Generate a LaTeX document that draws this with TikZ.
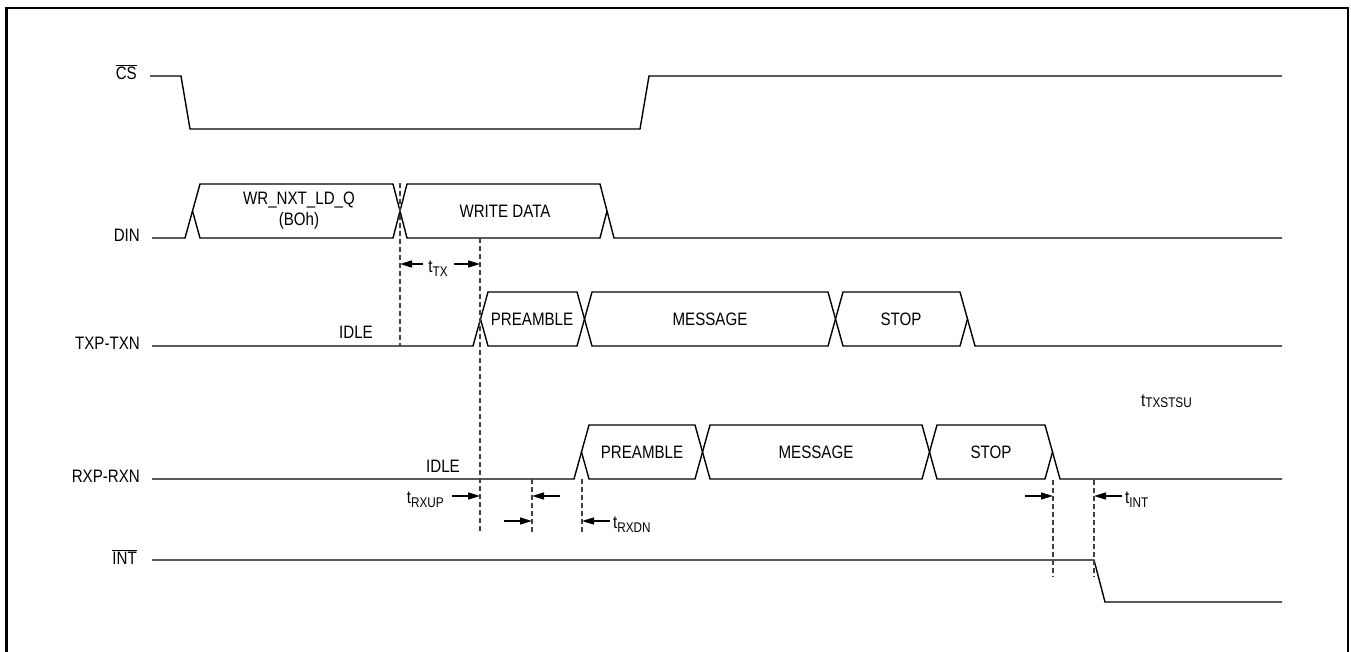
\documentclass[tikz,border=0pt]{standalone}
\usepackage{fontspec}
\setmainfont{Liberation Sans}[FakeStretch=0.84]
\usetikzlibrary{arrows.meta}
\newcommand{\subtx}[1]{\raisebox{-0.45ex}{\fontsize{14}{15}\selectfont #1}}
\begin{document}
\begin{tikzpicture}[x=1pt,y=-1pt,
  sig/.style={line width=1.4pt, line join=miter},
  guide/.style={line width=1.1pt, dash pattern=on 5pt off 3pt, black!75},
  dim/.style={line width=1.4pt, -{Triangle[length=12pt,width=7pt]}},
  lbl/.style={font=\fontsize{18}{20}\selectfont, inner sep=0pt}]
\useasboundingbox (0,0) rectangle (1351,652);
\draw[line width=2.5pt] (6.5,662) -- (6.5,8) -- (1348,8) -- (1348,662);

% signal names
\node[lbl, anchor=east] (cs)  at (137,72)  {$\overline{\hbox{CS}}$};
\node[lbl, anchor=east] (din) at (140,235) {DIN};
\node[lbl, anchor=east] (tx)  at (140,343) {TXP-TXN};
\node[lbl, anchor=east] (rx)  at (140,476) {RXP-RXN};
\node[lbl, anchor=east] (int) at (137,557) {$\overline{\hbox{INT}}$};

% CS
\draw[sig] (150,76) -- (181,76) -- (190,129) -- (640,129) -- (649,76) -- (1282,76);

% DIN
\draw[sig] (152,238) -- (185,238) -- (200,184) -- (393,184) -- (407,238) -- (600,238) -- (607,211);
\draw[sig] (192.5,211) -- (200,238) -- (393,238) -- (407,184) -- (600,184) -- (614,238) -- (1282,238);
\node[lbl] (wr)  at (299,200) {WR\_NXT\_LD\_Q};
\node[lbl] (boh) at (299,221) {(BOh)};
\node[lbl] (wd)  at (505,211) {WRITE DATA};

% TXP-TXN
\draw[sig] (152,346) -- (473,346) -- (488,292) -- (577,292) -- (592,346) -- (828,346) -- (843,292) -- (960,292) -- (975,346) -- (1282,346);
\draw[sig] (480.5,319) -- (488,346) -- (577,346) -- (592,292) -- (828,292) -- (843,346) -- (960,346) -- (967.5,319);
\node[lbl] (txidle) at (356,332) {IDLE};
\node[lbl] (txpre)  at (532,319) {PREAMBLE};
\node[lbl] (txmsg)  at (710,319) {MESSAGE};
\node[lbl] (txstop) at (901,319) {STOP};

% RXP-RXN
\draw[sig] (152,479) -- (574,479) -- (589,425) -- (695,425) -- (710,479) -- (922,479) -- (937,425) -- (1045,425) -- (1060,479) -- (1282,479);
\draw[sig] (581.5,452) -- (589,479) -- (695,479) -- (710,425) -- (922,425) -- (937,479) -- (1045,479) -- (1052.5,452);
\node[lbl] (rxidle) at (443,466) {IDLE};
\node[lbl] (rxpre)  at (642,452) {PREAMBLE};
\node[lbl] (rxmsg)  at (816,452) {MESSAGE};
\node[lbl] (rxstop) at (991,452) {STOP};

% INT
\draw[sig] (152,560) -- (1094,560) -- (1105,602) -- (1282,602);

% guide lines
\draw[guide] (400,183) -- (400,346);
\draw[guide] (480,238) -- (480,533);
\draw[guide] (532,479) -- (532,533);
\draw[guide] (582,479) -- (582,533);
\draw[guide] (1053,480) -- (1053,577);
\draw[guide] (1094,480) -- (1094,577);

% timing arrows
\coordinate (a1s) at (423,264); \coordinate (a1e) at (400,264);
\coordinate (a2s) at (454,264); \coordinate (a2e) at (480,264);
\draw[dim] (a1s) -- (a1e);
\draw[dim] (a2s) -- (a2e);
\node[lbl] (ttx) at (438,269) {t\subtx{TX}};

\coordinate (b1s) at (452,496); \coordinate (b1e) at (480,496);
\draw[dim] (b1s) -- (b1e);
\node[lbl, anchor=east] (trxup) at (444,500) {t\subtx{RXUP}};
\coordinate (b2s) at (560,496); \coordinate (b2e) at (532,496);
\draw[dim] (b2s) -- (b2e);
\coordinate (b3s) at (504,521); \coordinate (b3e) at (532,521);
\draw[dim] (b3s) -- (b3e);
\coordinate (b4s) at (610,521); \coordinate (b4e) at (582,521);
\draw[dim] (b4s) -- (b4e);
\node[lbl, anchor=west] (trxdn) at (613,525) {t\subtx{RXDN}};

\coordinate (c1s) at (1025,496); \coordinate (c1e) at (1053,496);
\draw[dim] (c1s) -- (c1e);
\coordinate (c2s) at (1122,496); \coordinate (c2e) at (1094,496);
\draw[dim] (c2s) -- (c2e);
\node[lbl, anchor=west] (tint) at (1125,500) {t\subtx{INT}};

\node[lbl, anchor=west] (tsu) at (1141,401) {t\raisebox{-0.15ex}{\fontsize{14}{15}\selectfont TXSTSU}};
\end{tikzpicture}
\end{document}
